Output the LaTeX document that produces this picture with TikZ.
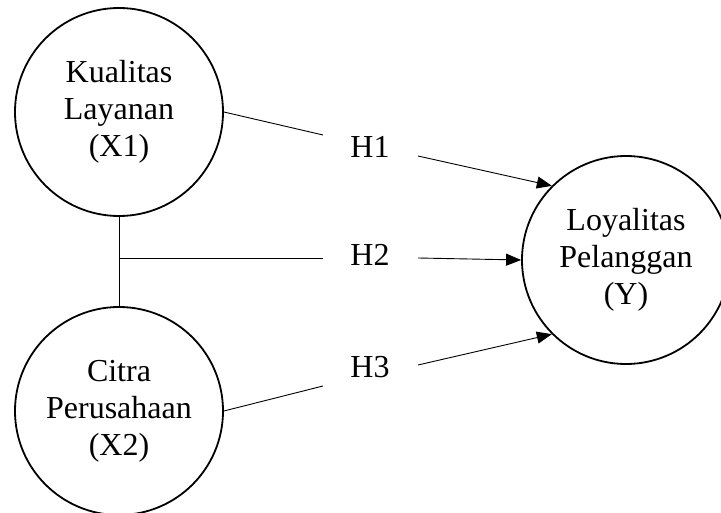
\documentclass[tikz,border=0pt]{standalone}
\usepackage{fontspec}
\setmainfont{Liberation Serif}
\usetikzlibrary{arrows.meta}
\begin{document}
\begin{tikzpicture}[x=1pt,y=1pt,
  latent/.style={circle,draw,line width=1.8pt,minimum size=208pt,inner sep=0pt,align=center,
    font=\fontsize{32}{37}\selectfont},
  hlabel/.style={inner sep=0pt,font=\fontsize{32}{37}\selectfont},
  conn/.style={line width=0.9pt},
  arr/.style={line width=0.9pt,-{Triangle[length=15pt,width=12pt]}}]
\useasboundingbox (0,0) rectangle (721,512);
\node[latent] (x1) at (119,400) {Kualitas\\Layanan\\(X1)};
\node[latent] (x2) at (119,101) {Citra\\Perusahaan\\(X2)};
\node[latent] (y) at (626,252) {Loyalitas\\Pelanggan\\(Y)};
\node[hlabel] (h1) at (370,365) {H1};
\node[hlabel] (h2) at (370,257) {H2};
\node[hlabel] (h3) at (370,145) {H3};
\coordinate (h1l) at (323,377);
\coordinate (h1r) at (418,356);
\coordinate (j) at (119,254);
\coordinate (h2l) at (323,254);
\coordinate (h2r) at (418,254);
\coordinate (h3l) at (323,126);
\coordinate (h3r) at (418,147);
\draw[conn] (x1.east) -- (h1l);
\draw[arr] (h1r) -- (y.135);
\draw[conn] (x1.south) -- (x2.north);
\draw[conn] (j) -- (h2l);
\draw[arr] (h2r) -- (y.west);
\draw[conn] (x2.east) -- (h3l);
\draw[arr] (h3r) -- (y.225);
\end{tikzpicture}
\end{document}
